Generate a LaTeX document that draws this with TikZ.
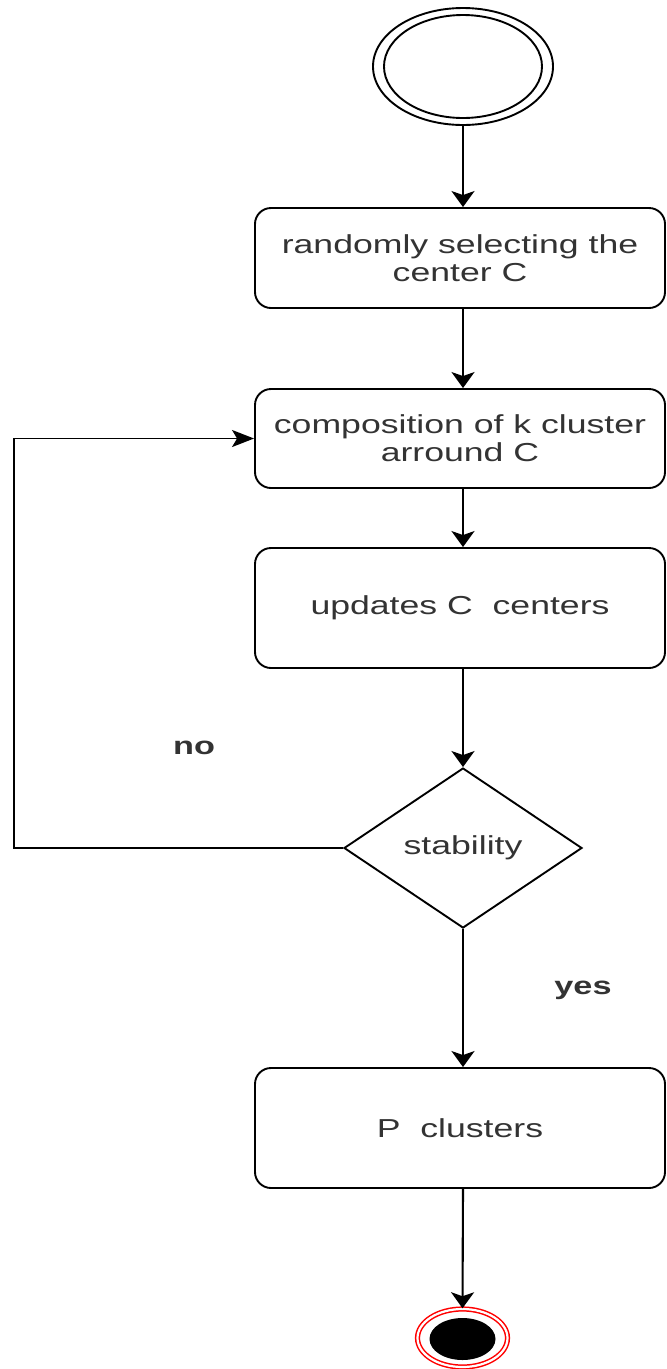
\documentclass[tikz,border=0pt]{standalone}
\usepackage{fontspec}
\setmainfont{Liberation Sans}
\newfontfamily\dfont[FakeStretch=1.37]{Liberation Sans}
\usetikzlibrary{shapes.geometric,arrows.meta}
\definecolor{txt}{HTML}{333333}
\tikzset{
  box/.style={draw, rounded corners=16pt, line width=1.9pt, minimum width=410pt, minimum height=100pt, align=center, inner sep=0pt, text=txt, font=\dfont\fontsize{26}{28}\selectfont},
  vflow/.style={line width=2.1pt, -{Stealth[length=16pt,width=23pt,inset=4pt]}},
  hflow/.style={line width=1.9pt, -{Stealth[length=22pt,width=17pt,inset=5pt]}},
  lbl/.style={font=\dfont\bfseries\fontsize{25}{28}\selectfont, text=txt},
}
\begin{document}
\begin{tikzpicture}[x=1pt,y=-1pt]
\useasboundingbox (0,0) rectangle (667,1369);
% start
\node[draw, ellipse, line width=1.9pt, minimum width=180pt, minimum height=117pt, inner sep=0pt] (start) at (463,66.5) {};
\node[draw, ellipse, line width=1.9pt, minimum width=158pt, minimum height=103pt, inner sep=0pt] (startin) at (463,66.5) {};
% boxes
\node[box] (b1) at (460,258) {randomly selecting the\\center C};
\node[box, minimum height=99pt] (b2) at (460,438.5) {composition of k cluster\\arround C};
\node[box, minimum height=120pt] (b3) at (460,608) {updates C\ \ centers};
\node[draw, diamond, line width=1.9pt, minimum width=238pt, minimum height=160pt, inner sep=0pt, text=txt, font=\dfont\fontsize{26}{28}\selectfont] (dia) at (463,848) {stability};
\node[box, minimum height=120pt] (b4) at (460,1128) {P\ \ clusters};
% end
\node[ellipse, draw=red, double=white, double distance=2.2pt, line width=1.5pt, minimum width=90pt, minimum height=58pt, inner sep=0pt] (endo) at (462.5,1338) {};
\node[ellipse, fill=black, minimum width=66pt, minimum height=42pt, inner sep=0pt] (endi) at (462.5,1339) {};
% connectors
\draw[vflow] (start.south) -- (start.south |- b1.north);
\draw[vflow] (start.south |- b1.south) -- (start.south |- b2.north);
\draw[vflow] (start.south |- b2.south) -- (start.south |- b3.north);
\draw[vflow] (start.south |- b3.south) -- (dia.north);
\draw[vflow] (dia.south) -- (dia.south |- b4.north);
\draw[vflow] (start.south |- b4.south) -- (endo.north);
\coordinate (lc) at (14,848);
\draw[hflow] (dia.west) -- (lc) |- (b2.west);
% labels
\node[lbl] (no) at (194,748) {no};
\node[lbl] (yes) at (583,990) {yes};
\end{tikzpicture}
\end{document}
